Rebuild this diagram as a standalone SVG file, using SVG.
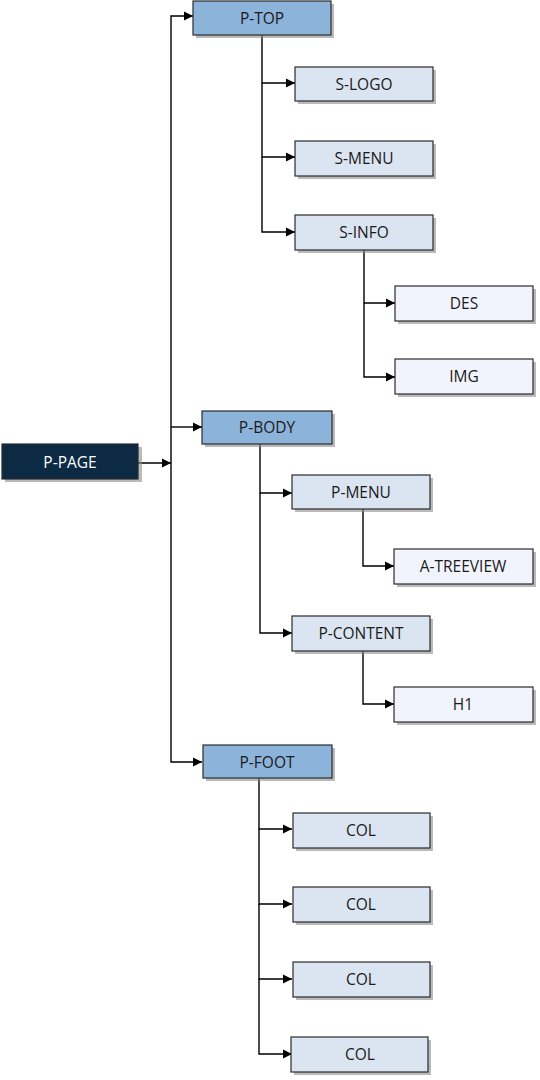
<svg xmlns="http://www.w3.org/2000/svg" width="540" height="1080" viewBox="0 0 540 1080">
<style>
.sh{fill:#8c8c8c;opacity:0.6}
.bx{stroke:#2b2b2b;stroke-width:1.2}
.l0{fill:#0c2a44}
.l1{fill:#8cb3d9}
.l2{fill:#dbe5f1}
.l3{fill:#f2f4fd}
text{font-family:"Open Sans","Noto Sans",sans-serif;font-size:15.5px;fill:#1a1a1a;text-anchor:middle;dominant-baseline:central}
.w{fill:#ffffff}
.c{fill:none;stroke:#000;stroke-width:1.4;marker-end:url(#ah)}
.n{fill:none;stroke:#000;stroke-width:1.4}
</style>
<defs>
<marker id="ah" markerWidth="10" markerHeight="10" refX="9" refY="5" orient="auto" markerUnits="userSpaceOnUse">
<path d="M0,0.5 L9,5 L0,9.5 Z" fill="#000"/>
</marker>
</defs>
<g id="connectors">
<path class="c" d="M138,463 H171"/>
<path class="c" d="M171,463 V16 H193"/>
<path class="c" d="M171,427 H202"/>
<path class="c" d="M171,463 V762 H202"/>
<path class="c" d="M262,35 V83 H295"/>
<path class="c" d="M262,83 V157 H295"/>
<path class="c" d="M262,157 V232 H295"/>
<path class="c" d="M364,250 V303 H395"/>
<path class="c" d="M364,303 V377 H395"/>
<path class="c" d="M260,443 V493 H292"/>
<path class="c" d="M260,493 V633 H292"/>
<path class="c" d="M363,509 V566 H394"/>
<path class="c" d="M363,651 V704 H394"/>
<path class="c" d="M259,778 V829 H292"/>
<path class="c" d="M259,829 V904 H292"/>
<path class="c" d="M259,904 V979 H292"/>
<path class="c" d="M259,979 V1054 H292"/>
</g>
<g id="p-page"><rect class="sh" x="5" y="447" width="137" height="35"/><rect class="bx l0" x="2" y="444" width="136" height="35"/><text class="w" x="70" y="462">P-PAGE</text></g>
<g id="p-top"><rect class="sh" x="196" y="4" width="138" height="34"/><rect class="bx l1" x="193" y="1" width="138" height="34"/><text x="262" y="18">P-TOP</text></g>
<g id="s-logo"><rect class="sh" x="298" y="70" width="138" height="34"/><rect class="bx l2" x="295" y="67" width="138" height="34"/><text x="364" y="84">S-LOGO</text></g>
<g id="s-menu"><rect class="sh" x="298" y="144" width="138" height="35"/><rect class="bx l2" x="295" y="141" width="138" height="35"/><text x="364" y="158">S-MENU</text></g>
<g id="s-info"><rect class="sh" x="298" y="218" width="138" height="35"/><rect class="bx l2" x="295" y="215" width="138" height="35"/><text x="364" y="232">S-INFO</text></g>
<g id="des"><rect class="sh" x="398" y="289" width="138" height="35"/><rect class="bx l3" x="395" y="286" width="138" height="35"/><text x="464" y="303">DES</text></g>
<g id="img"><rect class="sh" x="398" y="362" width="138" height="35"/><rect class="bx l3" x="395" y="359" width="138" height="35"/><text x="464" y="376">IMG</text></g>
<g id="p-body"><rect class="sh" x="205" y="414" width="130" height="33"/><rect class="bx l1" x="202" y="411" width="130" height="33"/><text x="267" y="427">P-BODY</text></g>
<g id="p-menu"><rect class="sh" x="295" y="478" width="138" height="34"/><rect class="bx l2" x="292" y="475" width="138" height="34"/><text x="361" y="492">P-MENU</text></g>
<g id="a-treeview"><rect class="sh" x="397" y="552" width="139" height="35"/><rect class="bx l3" x="394" y="549" width="139" height="35"/><text x="463" y="566">A-TREEVIEW</text></g>
<g id="p-content"><rect class="sh" x="295" y="619" width="138" height="35"/><rect class="bx l2" x="292" y="616" width="138" height="35"/><text x="361" y="633">P-CONTENT</text></g>
<g id="h1"><rect class="sh" x="397" y="690" width="139" height="35"/><rect class="bx l3" x="394" y="687" width="139" height="35"/><text x="463" y="704">H1</text></g>
<g id="p-foot"><rect class="sh" x="206" y="748" width="129" height="33"/><rect class="bx l1" x="203" y="745" width="129" height="33"/><text x="267" y="762">P-FOOT</text></g>
<g id="col-1"><rect class="sh" x="296" y="816" width="137" height="35"/><rect class="bx l2" x="293" y="813" width="137" height="35"/><text x="361" y="830">COL</text></g>
<g id="col-2"><rect class="sh" x="296" y="890" width="137" height="35"/><rect class="bx l2" x="293" y="887" width="137" height="35"/><text x="361" y="904">COL</text></g>
<g id="col-3"><rect class="sh" x="296" y="965" width="137" height="35"/><rect class="bx l2" x="293" y="962" width="137" height="35"/><text x="361" y="979">COL</text></g>
<g id="col-4"><rect class="sh" x="294" y="1040" width="137" height="35"/><rect class="bx l2" x="291" y="1037" width="137" height="35"/><text x="360" y="1054">COL</text></g>
</svg>
